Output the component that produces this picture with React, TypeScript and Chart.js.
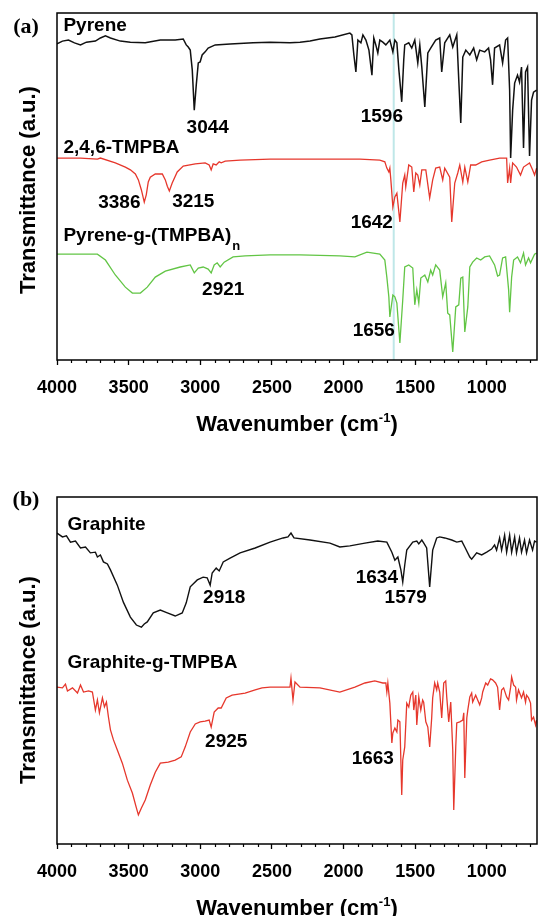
import React, { useEffect, useRef } from "react";
import { Chart, registerables } from "chart.js";

Chart.register(...registerables);

// ---- axis data ----
const WN_MIN = 650;
const WN_MAX = 4000;
const majorTicks = [4000, 3500, 3000, 2500, 2000, 1500, 1000];
const minorStep = 100;
const markerWavenumber = 1650;

type Pt = [number, number]; // [wavenumber (cm-1), transmittance (a.u.)]

// ---- panel (a) spectra ----
const pyrene: Pt[] = [
  [4000, 91.1], [3962, 91.9], [3920, 92.2], [3878, 91.4], [3836, 90.8], [3795, 91.6], [3732, 91.9],
  [3697, 92.8], [3662, 93.4], [3627, 92.8], [3558, 91.9], [3488, 91.6], [3384, 91.4], [3279, 92.2],
  [3175, 92.2], [3119, 92.5], [3098, 90.8], [3084, 90.2], [3070, 89.3], [3056, 83.6], [3042, 72.0],
  [3028, 79.3], [3014, 85.6], [3001, 85.9], [2987, 87.9], [2966, 88.8], [2945, 89.9], [2896, 90.8],
  [2792, 91.1], [2631, 91.4], [2513, 91.6], [2374, 91.4], [2304, 91.6], [2234, 91.9], [2165, 92.5],
  [2060, 93.1], [1956, 94.2], [1942, 93.7], [1928, 87.9], [1914, 83.0], [1900, 92.2], [1879, 91.4],
  [1865, 93.7], [1844, 92.2], [1823, 89.3], [1802, 82.1], [1789, 92.8], [1775, 90.8], [1761, 88.5],
  [1747, 92.2], [1726, 91.6], [1705, 90.8], [1677, 92.2], [1656, 88.8], [1642, 92.2], [1628, 91.4],
  [1614, 83.6], [1594, 74.4], [1580, 86.5], [1573, 90.8], [1545, 91.4], [1524, 89.9], [1503, 92.2],
  [1482, 85.6], [1468, 90.8], [1454, 84.4], [1433, 72.9], [1412, 88.5], [1392, 89.9], [1357, 92.2],
  [1329, 92.8], [1315, 83.0], [1294, 91.4], [1259, 93.7], [1238, 90.2], [1210, 93.7], [1196, 80.7],
  [1182, 68.3], [1168, 87.3], [1147, 89.3], [1119, 87.9], [1092, 89.9], [1071, 86.5], [1050, 89.3],
  [1015, 88.8], [988, 89.9], [974, 86.5], [960, 79.3], [946, 89.9], [911, 90.8], [890, 85.6],
  [869, 92.2], [855, 92.8], [841, 77.8], [834, 58.2], [820, 72.0], [806, 79.8], [786, 82.1],
  [772, 80.1], [758, 84.4], [744, 61.1], [730, 83.0], [716, 84.4], [702, 58.8], [688, 74.9],
  [674, 77.2], [653, 77.8],
];

const tmpba: Pt[] = [
  [4000, 58.2], [3836, 58.2], [3718, 57.9], [3697, 58.2], [3593, 56.8], [3523, 55.6], [3488, 54.8],
  [3453, 53.6], [3432, 51.9], [3411, 49.0], [3391, 45.5], [3377, 47.6], [3363, 51.3], [3349, 52.7],
  [3314, 53.6], [3265, 53.6], [3244, 51.9], [3230, 50.1], [3216, 48.7], [3196, 51.0], [3161, 54.2],
  [3119, 55.9], [3035, 56.5], [2966, 56.8], [2938, 56.2], [2924, 54.8], [2910, 56.5], [2889, 56.2],
  [2868, 57.1], [2854, 56.8], [2826, 57.3], [2722, 57.6], [2513, 57.9], [2304, 57.9], [2095, 57.9],
  [1886, 57.9], [1747, 57.6], [1712, 57.1], [1698, 55.3], [1684, 54.2], [1677, 55.3], [1670, 51.9],
  [1656, 44.1], [1642, 47.0], [1628, 48.1], [1607, 39.8], [1587, 51.0], [1573, 53.3], [1566, 49.9],
  [1545, 56.2], [1524, 55.6], [1510, 48.4], [1496, 53.9], [1482, 53.3], [1468, 50.4], [1454, 54.8],
  [1426, 54.8], [1399, 46.7], [1378, 51.9], [1357, 55.3], [1329, 55.6], [1308, 51.9], [1294, 55.3],
  [1259, 52.7], [1245, 39.8], [1224, 51.0], [1203, 53.9], [1189, 56.2], [1168, 51.3], [1154, 55.6],
  [1133, 51.3], [1113, 56.2], [1078, 56.2], [1036, 57.1], [981, 57.6], [911, 58.2], [862, 58.2],
  [855, 51.0], [841, 55.3], [834, 51.0], [820, 56.8], [793, 55.6], [765, 53.3], [744, 55.6],
  [702, 56.8], [681, 54.8], [667, 53.3], [653, 55.3],
];

const pyreneGTmpba: Pt[] = [
  [4000, 30.5], [3718, 30.5], [3662, 28.8], [3593, 24.5], [3523, 21.0], [3474, 19.3], [3418, 19.3],
  [3370, 21.0], [3314, 23.9], [3244, 25.6], [3140, 26.8], [3070, 27.4], [3042, 25.1], [3014, 26.5],
  [2980, 26.8], [2945, 26.2], [2924, 25.1], [2903, 27.4], [2882, 28.0], [2861, 26.8], [2833, 28.2],
  [2771, 29.7], [2687, 30.0], [2513, 30.3], [2304, 30.3], [2026, 30.0], [1921, 29.7], [1837, 31.1],
  [1747, 30.5], [1712, 28.8], [1698, 23.9], [1684, 18.2], [1677, 12.4], [1656, 18.7], [1642, 18.2],
  [1628, 16.4], [1607, 4.9], [1587, 17.3], [1573, 26.8], [1545, 27.4], [1517, 26.5], [1503, 15.9],
  [1489, 20.2], [1475, 16.4], [1461, 23.6], [1433, 24.5], [1412, 22.5], [1392, 25.9], [1378, 24.5],
  [1357, 27.4], [1329, 25.9], [1308, 18.2], [1287, 22.2], [1273, 13.5], [1259, 13.0], [1238, 2.3],
  [1217, 15.3], [1196, 15.9], [1182, 23.6], [1168, 23.9], [1154, 8.1], [1133, 15.3], [1119, 26.8],
  [1099, 28.2], [1071, 29.4], [1043, 28.8], [1015, 29.7], [981, 30.0], [946, 27.4], [925, 24.2],
  [911, 24.5], [890, 29.4], [869, 29.7], [848, 20.2], [841, 13.8], [827, 23.9], [813, 28.8],
  [786, 29.7], [765, 28.0], [744, 30.8], [730, 27.4], [709, 29.4], [695, 28.0], [667, 30.5],
  [653, 30.8],
];

// ---- panel (b) spectra ----
const graphite: Pt[] = [
  [4000, 89.6], [3962, 88.5], [3934, 88.8], [3906, 87.0], [3871, 87.3], [3836, 85.3], [3801, 85.6],
  [3767, 83.9], [3732, 84.1], [3718, 82.7], [3697, 83.3], [3676, 81.3], [3648, 80.7], [3627, 79.0],
  [3579, 74.6], [3537, 69.7], [3488, 65.4], [3446, 63.1], [3411, 62.5], [3391, 63.4], [3370, 64.0],
  [3328, 66.6], [3279, 67.4], [3230, 66.6], [3175, 65.7], [3126, 66.6], [3098, 69.5], [3070, 74.1],
  [3021, 76.1], [2980, 76.9], [2952, 76.7], [2931, 74.6], [2917, 78.1], [2889, 79.5], [2868, 78.7],
  [2840, 81.3], [2792, 82.4], [2722, 83.9], [2617, 85.3], [2513, 87.0], [2422, 88.2], [2388, 88.5],
  [2367, 89.6], [2346, 88.2], [2234, 87.6], [2095, 86.7], [2026, 85.6], [1956, 85.9], [1851, 86.7],
  [1761, 87.3], [1698, 87.0], [1663, 84.1], [1642, 81.8], [1621, 82.7], [1600, 79.0], [1587, 75.5],
  [1573, 80.4], [1559, 84.7], [1517, 87.0], [1489, 87.3], [1475, 86.5], [1454, 87.6], [1440, 86.7],
  [1420, 85.3], [1399, 74.1], [1378, 84.7], [1350, 88.2], [1329, 88.5], [1294, 88.2], [1245, 87.6],
  [1210, 87.0], [1175, 87.3], [1154, 85.6], [1119, 82.7], [1106, 82.1], [1071, 83.9], [1036, 83.3],
  [1001, 84.1], [967, 85.0], [946, 86.2], [932, 84.7], [911, 88.2], [897, 84.7], [876, 89.0],
  [862, 84.1], [841, 89.0], [827, 84.1], [806, 88.5], [793, 83.9], [772, 88.2], [758, 84.1],
  [737, 87.6], [723, 83.9], [702, 87.6], [681, 84.7], [667, 87.3], [653, 87.0],
];

const graphiteGTmpba: Pt[] = [
  [4000, 45.2], [3962, 45.0], [3941, 46.1], [3927, 44.1], [3892, 45.0], [3857, 43.5], [3836, 45.8],
  [3815, 43.8], [3780, 44.1], [3753, 43.8], [3732, 38.6], [3718, 41.5], [3704, 37.8], [3683, 42.1],
  [3669, 39.5], [3655, 40.9], [3641, 36.6], [3627, 32.9], [3606, 30.0], [3579, 27.1], [3544, 23.3],
  [3509, 18.4], [3474, 14.7], [3446, 10.4], [3432, 8.4], [3411, 10.4], [3384, 12.7], [3349, 17.0],
  [3314, 20.7], [3279, 23.3], [3223, 23.6], [3175, 24.2], [3133, 25.1], [3105, 28.0], [3070, 32.3],
  [3035, 34.6], [3001, 35.2], [2966, 35.4], [2938, 35.7], [2924, 33.7], [2903, 38.0], [2875, 39.2],
  [2854, 39.2], [2819, 42.1], [2778, 42.9], [2687, 43.5], [2617, 44.4], [2569, 45.0], [2513, 45.2],
  [2374, 45.2], [2367, 47.8], [2353, 41.5], [2339, 46.7], [2304, 45.2], [2165, 45.0], [2026, 43.8],
  [1921, 45.2], [1851, 46.4], [1782, 47.0], [1726, 46.4], [1705, 46.4], [1698, 43.8], [1691, 46.4],
  [1677, 40.6], [1663, 29.1], [1656, 32.0], [1642, 33.4], [1628, 32.3], [1621, 35.7], [1607, 35.2],
  [1594, 14.1], [1587, 24.2], [1573, 28.0], [1559, 40.6], [1545, 39.5], [1531, 42.9], [1517, 43.8],
  [1510, 38.6], [1496, 42.9], [1489, 34.3], [1475, 42.4], [1461, 38.6], [1448, 41.5], [1441, 40.9],
  [1426, 35.2], [1412, 33.7], [1399, 28.0], [1385, 36.3], [1378, 42.1], [1364, 46.4], [1350, 44.4],
  [1343, 46.4], [1329, 43.8], [1315, 36.3], [1301, 46.4], [1287, 47.0], [1280, 42.4], [1266, 35.2],
  [1252, 40.9], [1238, 27.1], [1231, 9.8], [1217, 28.0], [1210, 34.9], [1189, 35.2], [1168, 35.7],
  [1161, 37.8], [1154, 19.0], [1140, 36.3], [1133, 38.6], [1119, 42.4], [1106, 43.5], [1099, 40.9],
  [1078, 42.9], [1064, 41.5], [1050, 40.1], [1036, 42.1], [1029, 43.8], [1008, 46.4], [994, 45.8],
  [974, 47.6], [960, 47.3], [939, 46.4], [925, 45.2], [911, 38.6], [897, 44.4], [883, 45.0],
  [862, 42.4], [848, 41.5], [834, 45.2], [827, 48.1], [813, 45.8], [799, 45.2], [793, 41.5],
  [779, 44.4], [758, 42.1], [744, 43.8], [730, 40.9], [723, 42.9], [709, 42.1], [695, 40.6],
  [688, 35.7], [674, 36.6], [660, 34.3], [653, 35.7],
];

// ---- annotation texts (anchored in data coordinates) ----
type Label = { text: string; sub?: string; wn: number; val: number; align: CanvasTextAlign };

const labelsA: Label[] = [
  { text: "Pyrene", wn: 3955, val: 96.3, align: "left" },
  { text: "3044", wn: 2948, val: 66.9, align: "center" },
  { text: "1596", wn: 1733, val: 70.0, align: "center" },
  { text: "2,4,6-TMPBA", wn: 3955, val: 61.2, align: "left" },
  { text: "3386", wn: 3565, val: 45.2, align: "center" },
  { text: "3215", wn: 3049, val: 45.5, align: "center" },
  { text: "1642", wn: 1803, val: 39.5, align: "center" },
  { text: "Pyrene-g-(TMPBA)", sub: "n", wn: 3955, val: 35.7, align: "left" },
  { text: "2921", wn: 2840, val: 20.2, align: "center" },
  { text: "1656", wn: 1789, val: 8.4, align: "center" },
];

const labelsB: Label[] = [
  { text: "Graphite", wn: 3927, val: 91.9, align: "left" },
  { text: "2918", wn: 2833, val: 70.9, align: "center" },
  { text: "1634", wn: 1768, val: 76.7, align: "center" },
  { text: "1579", wn: 1566, val: 70.9, align: "center" },
  { text: "Graphite-g-TMPBA", wn: 3927, val: 52.2, align: "left" },
  { text: "2925", wn: 2819, val: 29.4, align: "center" },
  { text: "1663", wn: 1796, val: 24.5, align: "center" },
];

const SANS = '"Liberation Sans", Arial, Helvetica, sans-serif';
const SERIF = '"Liberation Serif", "Times New Roman", serif';

const BLACK = "#111111";
const RED = "#e6372c";
const GREEN = "#62c545";
const CYAN = "#bfe7e8";

type Series = { data: Pt[]; color: string; width: number };
type PanelSpec = {
  letter: string;
  letterBaseline: number;
  yTitleCenter: number;
  height: number;
  series: Series[];
  labels: Label[];
  marker?: number;
};

const panelA: PanelSpec = {
  letter: "(a)",
  letterBaseline: 33,
  yTitleCenter: 190,
  height: 484,
  series: [
    { data: pyrene, color: BLACK, width: 1.5 },
    { data: tmpba, color: RED, width: 1.3 },
    { data: pyreneGTmpba, color: GREEN, width: 1.3 },
  ],
  labels: labelsA,
  marker: markerWavenumber,
};

const panelB: PanelSpec = {
  letter: "(b)",
  letterBaseline: 22,
  yTitleCenter: 196,
  height: 432,
  series: [
    { data: graphite, color: BLACK, width: 1.4 },
    { data: graphiteGTmpba, color: RED, width: 1.3 },
  ],
  labels: labelsB,
};

function makeDecor(spec: PanelSpec) {
  return {
    id: "decor",
    beforeDatasetsDraw(chart: any) {
      if (spec.marker == null) return;
      const { ctx, chartArea } = chart;
      const x = chart.scales.x.getPixelForValue(spec.marker);
      ctx.save();
      ctx.strokeStyle = CYAN;
      ctx.lineWidth = 2;
      ctx.beginPath();
      ctx.moveTo(x, chartArea.top);
      ctx.lineTo(x, chartArea.bottom);
      ctx.stroke();
      ctx.restore();
    },
    afterDraw(chart: any) {
      const { ctx, chartArea: ca } = chart;
      const xs = chart.scales.x;
      const ys = chart.scales.y;
      ctx.save();
      // frame
      ctx.strokeStyle = "#000";
      ctx.lineWidth = 1.5;
      ctx.strokeRect(ca.left, ca.top, ca.right - ca.left, ca.bottom - ca.top);
      // minor ticks
      ctx.lineWidth = 1.2;
      ctx.beginPath();
      for (let v = Math.ceil(WN_MIN / minorStep) * minorStep; v <= WN_MAX; v += minorStep) {
        if (majorTicks.includes(v)) continue;
        const px = Math.round(xs.getPixelForValue(v)) + 0.5;
        ctx.moveTo(px, ca.bottom);
        ctx.lineTo(px, ca.bottom + 3);
      }
      ctx.stroke();

      // annotations
      ctx.fillStyle = "#000";
      for (const l of spec.labels) {
        ctx.font = `bold 19px ${SANS}`;
        ctx.textAlign = l.align;
        ctx.textBaseline = "middle";
        const px = xs.getPixelForValue(l.wn);
        const py = ys.getPixelForValue(l.val);
        ctx.fillText(l.text, px, py);
        if (l.sub) {
          const w = ctx.measureText(l.text).width;
          ctx.font = `bold 13px ${SANS}`;
          ctx.textAlign = "left";
          ctx.fillText(l.sub, px + w + 1, py + 10);
        }
      }

      // x axis title with superscript
      const cx = (ca.left + ca.right) / 2;
      const base = 431;
      const big = `bold 22px ${SANS}`;
      const small = `bold 13px ${SANS}`;
      const p1 = "Wavenumber (cm";
      const p2 = "-1";
      const p3 = ")";
      ctx.textBaseline = "alphabetic";
      ctx.textAlign = "left";
      ctx.font = big;
      const w1 = ctx.measureText(p1).width;
      const w3 = ctx.measureText(p3).width;
      ctx.font = small;
      const w2 = ctx.measureText(p2).width;
      let sx = cx - (w1 + w2 + w3) / 2;
      ctx.font = big;
      ctx.fillText(p1, sx, base);
      sx += w1;
      ctx.font = small;
      ctx.fillText(p2, sx, base - 9);
      sx += w2;
      ctx.font = big;
      ctx.fillText(p3, sx, base);

      // y axis title
      ctx.save();
      ctx.translate(35, spec.yTitleCenter);
      ctx.rotate(-Math.PI / 2);
      ctx.textAlign = "center";
      ctx.textBaseline = "alphabetic";
      ctx.font = `bold 22px ${SANS}`;
      ctx.fillText("Transmittance (a.u.)", 0, 0);
      ctx.restore();

      // panel letter
      ctx.font = `bold 22px ${SERIF}`;
      ctx.textAlign = "center";
      ctx.textBaseline = "alphabetic";
      ctx.fillText(spec.letter, 26, spec.letterBaseline);
      ctx.restore();
    },
  };
}

function Panel({ spec }: { spec: PanelSpec }) {
  const ref = useRef<HTMLCanvasElement>(null);
  useEffect(() => {
    const canvas = ref.current;
    if (!canvas) return;
    const chart = new Chart(canvas, {
      type: "line",
      data: {
        datasets: spec.series.map((s) => ({
          data: s.data.map(([x, y]) => ({ x, y })),
          borderColor: s.color,
          borderWidth: s.width,
          pointRadius: 0,
          tension: 0,
          fill: false,
        })),
      },
      options: {
        animation: false,
        responsive: false,
        maintainAspectRatio: false,
        events: [],
        layout: { padding: { top: 13, right: 1, left: 0, bottom: 0 } },
        plugins: { legend: { display: false }, tooltip: { enabled: false }, title: { display: false } },
        scales: {
          x: {
            type: "linear",
            reverse: true,
            min: WN_MIN,
            max: WN_MAX,
            afterFit: (s: any) => {
              s.height = spec.height - 13 - 347;
            },
            afterBuildTicks: (s: any) => {
              s.ticks = majorTicks.map((v) => ({ value: v }));
            },
            ticks: {
              color: "#000",
              font: { family: SANS, size: 18, weight: "bold" },
              padding: 12,
              maxRotation: 0,
              autoSkip: false,
              callback: (v: any) => String(v),
            },
            grid: { drawOnChartArea: false, tickLength: 5, tickColor: "#000", tickWidth: 1.3 },
            border: { display: false },
          },
          y: {
            type: "linear",
            min: 0,
            max: 100,
            afterFit: (s: any) => {
              s.width = 57;
            },
            ticks: { display: false },
            grid: { display: false },
            border: { display: false },
          },
        },
      },
      plugins: [makeDecor(spec)],
    } as any);
    return () => chart.destroy();
  }, [spec]);
  return (
    <canvas
      ref={ref}
      width={538}
      height={spec.height}
      style={{ display: "block", width: 538, height: spec.height }}
    />
  );
}

export default function App() {
  return (
    <div style={{ position: "absolute", left: 0, top: 0, width: 538, height: 916, background: "#fff" }}>
      <Panel spec={panelA} />
      <Panel spec={panelB} />
    </div>
  );
}
